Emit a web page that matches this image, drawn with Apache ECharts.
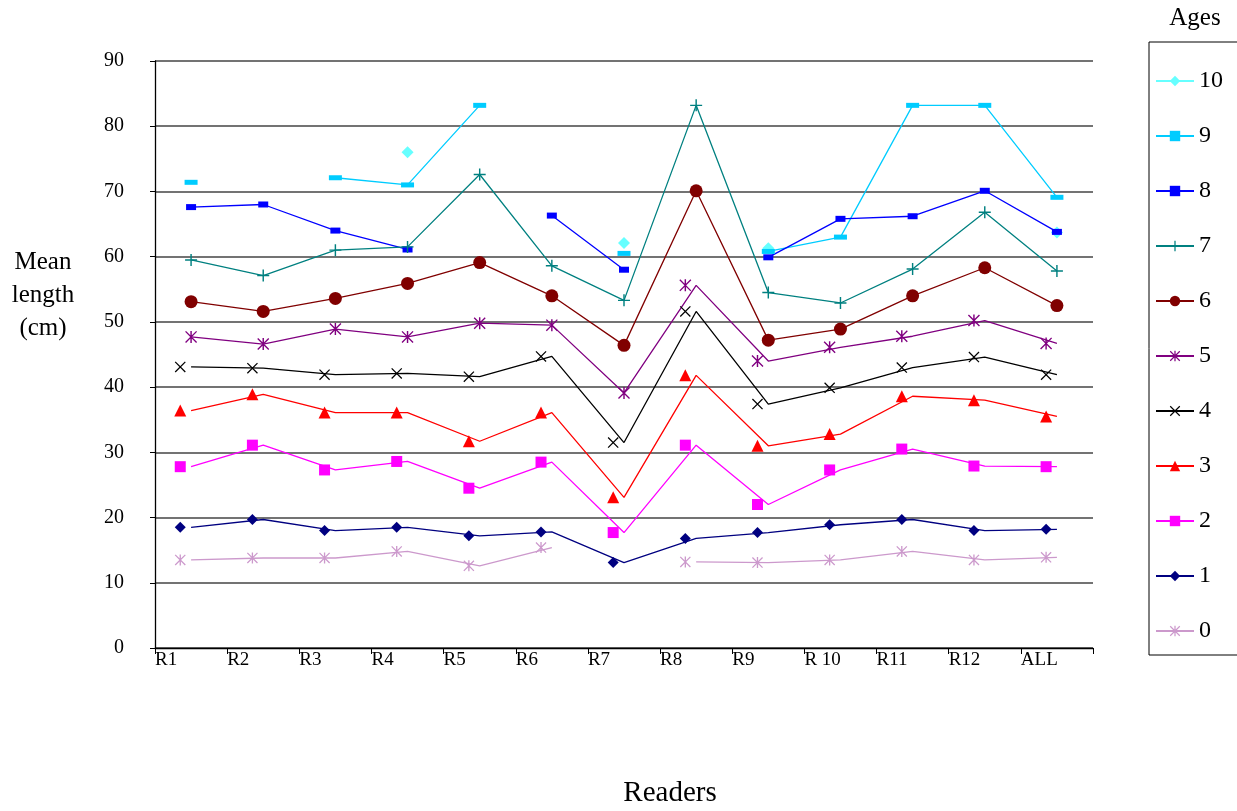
<!DOCTYPE html>
<html>
<head>
<meta charset="utf-8">
<script src="https://cdn.jsdelivr.net/npm/echarts@6/dist/echarts.min.js"></script>
<style>
html,body{margin:0;padding:0;background:#fff;}
#chart{width:1237px;height:811px;}
</style>
</head>
<body>
<div id="chart"></div>
<script>
const categories = ['R1','R2','R3','R4','R5','R6','R7','R8','R9','R 10','R11','R12','ALL'];
const yTicks = [0,10,20,30,40,50,60,70,80,90];
const ageNames = ['10','9','8','7','6','5','4','3','2','1','0'];
const age10 = [null,null,null,76.0,null,null,62.1,null,61.3,null,null,null,63.7];
const age9  = [71.4,null,72.1,71.0,83.2,null,60.5,null,60.8,63.0,83.2,83.2,69.1];
const age8  = [67.6,68.0,64.0,61.1,null,66.3,58.0,null,59.9,65.8,66.2,70.1,63.8];
const age7  = [59.5,57.1,61.0,61.5,72.6,58.6,53.3,83.2,54.5,52.9,58.1,66.8,57.8];
const age6  = [53.1,51.6,53.6,55.9,59.1,54.0,46.4,70.1,47.2,48.9,54.0,58.3,52.5];
const age5  = [47.7,46.6,48.9,47.7,49.8,49.5,39.1,55.6,44.0,46.1,47.8,50.2,46.7];
const age4  = [43.1,42.9,41.9,42.1,41.6,44.7,31.5,51.6,37.4,39.9,43.0,44.6,41.9];
const age3  = [36.4,38.9,36.1,36.1,31.7,36.1,23.1,41.8,31.0,32.8,38.6,38.0,35.5];
const age2  = [27.8,31.1,27.3,28.6,24.5,28.5,17.7,31.1,22.0,27.3,30.5,27.9,27.8];
const age1  = [18.5,19.7,18.0,18.5,17.2,17.8,13.1,16.8,17.7,18.9,19.7,18.0,18.2];
const age0  = [13.5,13.8,13.8,14.8,12.6,15.4,null,13.2,13.1,13.5,14.8,13.5,13.9];

const seriesValues = {'10':age10,'9':age9,'8':age8,'7':age7,'6':age6,'5':age5,'4':age4,'3':age3,'2':age2,'1':age1,'0':age0};

const P_PLUS = 'path://M4.4,0H5.6V4.4H10V5.6H5.6V10H4.4V5.6H0V4.4H4.4Z';
const P_X = 'path://M0,0.8L0.8,0L10,9.2L9.2,10Z M0.8,10L0,9.2L9.2,0L10,0.8Z';
const P_STAR = 'path://M4.4,0H5.6V10H4.4Z M0,0.8L0.8,0L10,9.2L9.2,10Z M0.8,10L0,9.2L9.2,0L10,0.8Z';

const styles = {
  '10': {color:'#66FFFF', symbol:'diamond', size:[12,12]},
  '9':  {color:'#00CCFF', symbol:'rect', size:[13,5]},
  '8':  {color:'#0000FF', symbol:'rect', size:[10,6]},
  '7':  {color:'#008080', symbol:P_PLUS, size:[12,12]},
  '6':  {color:'#800000', symbol:'circle', size:[13,13]},
  '5':  {color:'#800080', symbol:P_STAR, size:[12,12]},
  '4':  {color:'#000000', symbol:P_X, size:[11,11]},
  '3':  {color:'#FF0000', symbol:'triangle', size:[12,12]},
  '2':  {color:'#FF00FF', symbol:'rect', size:[11,11]},
  '1':  {color:'#000080', symbol:'diamond', size:[11,11]},
  '0':  {color:'#CC99CC', symbol:P_STAR, size:[11,11]}
};

function markerOffset(name, i){
  const a = Number(name);
  if (a <= 4) return 0.35;
  if (a === 5) return i < 7 ? 0.5 : 0.35;
  return 0.5;
}

const lineSeries = [];
const markSeries = [];
ageNames.forEach(function(name){
  const vals = seriesValues[name];
  const st = styles[name];
  lineSeries.push({
    name: name, type:'line',
    data: vals.map(function(v,i){ return [i+0.5, v==null ? '-' : v]; }),
    showSymbol:false, symbol: st.symbol, symbolSize: st.size,
    lineStyle:{color:st.color, width:1.3},
    itemStyle:{color:st.color},
    connectNulls:false, z:2
  });
  const pts = [];
  vals.forEach(function(v,i){ if(v!=null) pts.push([i+markerOffset(name,i), v]); });
  markSeries.push({
    name: name, type:'scatter',
    data: pts, symbol: st.symbol, symbolSize: st.size,
    itemStyle:{color:st.color, opacity:1}, z:3
  });
});

const chart = echarts.init(document.getElementById('chart'), null, {renderer:'canvas'});
const font = 'Liberation Serif, Times New Roman, serif';
chart.setOption({
  animation:false,
  backgroundColor:'#ffffff',
  grid:{left:155, right:144, top:61, bottom:163},
  xAxis:{
    type:'value', min:0, max:categories.length, interval:1,
    axisLine:{show:true, onZero:false, lineStyle:{color:'#000', width:1.3}},
    axisTick:{show:true, inside:false, length:6, lineStyle:{color:'#000'}},
    splitLine:{show:false},
    axisLabel:{
      show:true, margin:3, align:'left', color:'#000',
      fontFamily:font, fontSize:19,
      formatter:function(v){ const k=Math.round(v); return k<categories.length ? categories[k] : ''; },
      showMaxLabel:true, showMinLabel:true
    }
  },
  yAxis:{
    type:'value', min:yTicks[0], max:yTicks[yTicks.length-1], interval:10,
    axisLine:{show:true, lineStyle:{color:'#000', width:1.3}},
    axisTick:{show:true, inside:false, length:5, lineStyle:{color:'#000'}},
    splitLine:{show:true, lineStyle:{color:'#444', width:1.5}},
    axisLabel:{margin:31, color:'#000', fontFamily:font, fontSize:20}
  },
  legend:{
    orient:'vertical', left:1149, top:42,
    padding:[27,40,12,6],
    borderColor:'#000', borderWidth:1,
    itemWidth:38, itemHeight:13, itemGap:31,
    data: ageNames,
    textStyle:{color:'#000', fontFamily:font, fontSize:24}
  },
  graphic:[
    {type:'text', x:43, y:295, style:{text:'Mean\nlength\n(cm)', font:'25px '+font, fill:'#000', textAlign:'center', textVerticalAlign:'middle', lineHeight:33}},
    {type:'text', x:670, y:793, style:{text:'Readers', font:'29px '+font, fill:'#000', textAlign:'center', textVerticalAlign:'middle'}},
    {type:'text', x:1195, y:18, style:{text:'Ages', font:'25px '+font, fill:'#000', textAlign:'center', textVerticalAlign:'middle'}}
  ],
  series: lineSeries.concat(markSeries)
});
</script>
</body>
</html>
